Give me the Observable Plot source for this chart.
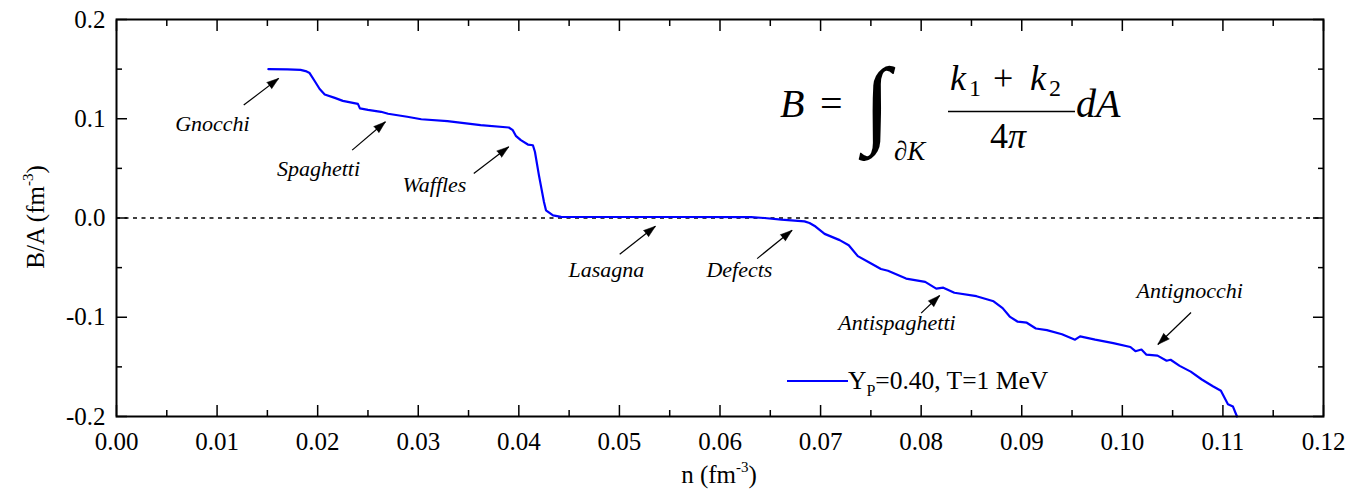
<!DOCTYPE html>
<html>
<head>
<meta charset="utf-8">
<script src="https://cdn.jsdelivr.net/npm/d3@7"></script>
<script src="https://cdn.jsdelivr.net/npm/@observablehq/plot@0.6"></script>
<style>
  html, body { margin: 0; padding: 0; background: #fff; }
  #wrap { position: relative; width: 1360px; height: 494px; overflow: hidden; }
  #overlay { position: absolute; left: 0; top: 0; pointer-events: none; }
  #overlay text { font-family: "Liberation Serif", "Times New Roman", serif; fill: #000; }
</style>
</head>
<body>
<div id="wrap">
  <div id="chart"></div>
  <svg id="overlay" width="1360" height="494" xmlns="http://www.w3.org/2000/svg">
    <!-- axis titles -->
    <text x="719" y="483" font-size="25" text-anchor="middle">n (fm<tspan font-size="15" dy="-11">-3</tspan><tspan dy="11">)</tspan></text>
    <text transform="translate(44,217) rotate(-90)" font-size="25" text-anchor="middle">B/A (fm<tspan font-size="15" dy="-11">-3</tspan><tspan dy="11">)</tspan></text>
    <!-- formula -->
    <text x="780" y="117" font-size="40" font-style="italic">B</text>
    <text x="820" y="117" font-size="40">=</text>
    <text x="864" y="135" font-size="97">∫</text>
    <text x="894" y="160" font-size="27">∂<tspan font-style="italic">K</tspan></text>
    <text x="950" y="90" font-size="36" font-style="italic">k</text>
    <text x="969" y="96" font-size="24">1</text>
    <text x="993" y="90" font-size="36">+</text>
    <text x="1030" y="90" font-size="36" font-style="italic">k</text>
    <text x="1049" y="96" font-size="24">2</text>
    <line x1="948" x2="1075" y1="111.5" y2="111.5" stroke="#000" stroke-width="1.6"></line>
    <text x="990" y="148" font-size="36">4<tspan font-style="italic">π</tspan></text>
    <text x="1076" y="117" font-size="40" font-style="italic">dA</text>
    <!-- legend -->
    <line x1="787" x2="848" y1="381" y2="381" stroke="#0000ff" stroke-width="2.2"></line>
    <text x="848" y="389" font-size="25.5">Y<tspan font-size="16" dy="7">P</tspan><tspan dy="-7">=0.40, T=1 MeV</tspan></text>
  </svg>
</div>
<script>
// ---- data: curve B/A vs n ----
const density = [
  0.0151, 0.0170, 0.0183, 0.0188, 0.0192, 0.0197, 0.0202, 0.0207, 0.0217, 0.0225,
  0.0240, 0.0242, 0.0250, 0.0263, 0.0270, 0.0289, 0.0303, 0.0329, 0.0362, 0.0390,
  0.0394, 0.0397, 0.0402, 0.0409, 0.0414, 0.0416, 0.0420, 0.0425, 0.0427, 0.0434,
  0.0442, 0.0500, 0.0560, 0.0631, 0.0644, 0.0661, 0.0684, 0.0689, 0.0695, 0.0704,
  0.0719, 0.0728, 0.0737, 0.0748, 0.0760, 0.0767, 0.0785, 0.0804, 0.0815, 0.0822,
  0.0833, 0.0855, 0.0872, 0.0881, 0.0888, 0.0896, 0.0905, 0.0914, 0.0925, 0.0940,
  0.0953, 0.0958, 0.0973, 0.0991, 0.1008, 0.1013, 0.1019, 0.1024, 0.1035, 0.1044,
  0.1048, 0.1057, 0.1068, 0.1079, 0.1090, 0.1098, 0.1105, 0.1110, 0.1114
];
const bPerA = [
  0.1500, 0.1498, 0.1493, 0.1480, 0.1460, 0.1380, 0.1300, 0.1245, 0.1210, 0.1180,
  0.1150, 0.1105, 0.1090, 0.1070, 0.1050, 0.1020, 0.0995, 0.0976, 0.0935, 0.0912,
  0.0885, 0.0828, 0.0784, 0.0740, 0.0733, 0.0667, 0.0430, 0.0162, 0.0077, 0.0026,
  0.0012, 0.0010, 0.0010, 0.0008, 0.0000, -0.0017, -0.0034, -0.0050, -0.0086, -0.0160,
  -0.0223, -0.0274, -0.0384, -0.0445, -0.0514, -0.0531, -0.0610, -0.0644, -0.0712, -0.0702,
  -0.0753, -0.0788, -0.0839, -0.0908, -0.0993, -0.1045, -0.1055, -0.1113, -0.1130, -0.1171,
  -0.1226, -0.1192, -0.1226, -0.1260, -0.1300, -0.1342, -0.1325, -0.1377, -0.1387, -0.1438,
  -0.1428, -0.1490, -0.1548, -0.1627, -0.1695, -0.1740, -0.1877, -0.1900, -0.2000
];

// ---- phase annotations ----
const phaseNames = ["Gnocchi", "Spaghetti", "Waffles", "Lasagna", "Defects", "Antispaghetti", "Antignocchi"];
const labelN = [0.00954, 0.02008, 0.03161, 0.04871, 0.06193, 0.0776, 0.1067];
const labelB = [0.0946, 0.0492, 0.0330, -0.0527, -0.0527, -0.1060, -0.0736];
const arrowFromN = [0.01265, 0.02343, 0.03552, 0.05003, 0.06369, 0.0800, 0.10683];
const arrowFromB = [0.1138, 0.0684, 0.0449, -0.0366, -0.0409, -0.0959, -0.0952];
const arrowToN = [0.01613, 0.02674, 0.0390, 0.05358, 0.06717, 0.08184, 0.10353];
const arrowToB = [0.1407, 0.0969, 0.0717, -0.0083, -0.0124, -0.0781, -0.1274];

// ---- ticks ----
const xMajor = [0, 0.01, 0.02, 0.03, 0.04, 0.05, 0.06, 0.07, 0.08, 0.09, 0.10, 0.11, 0.12];
const xMinor = [0.005, 0.015, 0.025, 0.035, 0.045, 0.055, 0.065, 0.075, 0.085, 0.095, 0.105, 0.115];
const yMajor = [-0.2, -0.1, 0, 0.1, 0.2];
const yMinor = [-0.15, -0.05, 0.05, 0.15];

const W = 1360, H = 494, ML = 116, MR = 37, MT = 19, MB = 78;
const xDomain = [0, 0.12], yDomain = [-0.2, 0.2];
// pixels per data unit (used only to orient the arrowheads)
const kx = (W - ML - MR) / (xDomain[1] - xDomain[0]);
const ky = (H - MT - MB) / (yDomain[1] - yDomain[0]);

const curve = density.map((n, i) => ({n, B: bPerA[i]}));
const labels = phaseNames.map((name, i) => ({name, n: labelN[i], B: labelB[i]}));
const arrows = phaseNames.map((name, i) => {
  const dx = (arrowToN[i] - arrowFromN[i]) * kx;
  const dy = (arrowToB[i] - arrowFromB[i]) * ky; // up positive
  return {x1: arrowFromN[i], y1: arrowFromB[i], x2: arrowToN[i], y2: arrowToB[i],
          angle: Math.atan2(dx, dy) * 180 / Math.PI};
});

const xFmt = d => d.toFixed(2);
const yFmt = d => d.toFixed(1);
const blank = () => "";

const chart = Plot.plot({
  width: W,
  height: H,
  marginLeft: ML,
  marginRight: MR,
  marginTop: MT,
  marginBottom: MB,
  style: {fontFamily: "Liberation Serif, Times New Roman, serif", fontSize: "25px", color: "#000", background: "#fff"},
  x: {domain: xDomain},
  y: {domain: yDomain},
  marks: [
    Plot.ruleY([0], {stroke: "#000", strokeWidth: 1.6, strokeDasharray: "4,4.5"}),
    Plot.line(curve, {x: "n", y: "B", stroke: "#0000ff", strokeWidth: 2.2}),
    Plot.link(arrows, {x1: "x1", y1: "y1", x2: "x2", y2: "y2", stroke: "#000", strokeWidth: 1.2}),
    Plot.vector(arrows, {x: "x2", y: "y2", rotate: "angle", length: 12, r: 4, shape: "spike", anchor: "end", fill: "#000", stroke: "#000", strokeWidth: 0.5}),
    Plot.text(labels, {x: "n", y: "B", text: "name", fontStyle: "italic", fontSize: 22, fill: "#000"}),
    Plot.axisX(xMajor, {anchor: "bottom", tickSize: -11, tickPadding: 27, tickFormat: xFmt, label: null, strokeWidth: 1.5}),
    Plot.axisX(xMinor, {anchor: "bottom", tickSize: -6, tickFormat: blank, label: null, strokeWidth: 1.5}),
    Plot.axisX(xMajor, {anchor: "top", tickSize: -11, tickFormat: blank, label: null, strokeWidth: 1.5}),
    Plot.axisX(xMinor, {anchor: "top", tickSize: -6, tickFormat: blank, label: null, strokeWidth: 1.5}),
    Plot.axisY(yMajor, {anchor: "left", tickSize: -11, tickPadding: 22, tickFormat: yFmt, label: null, strokeWidth: 1.5}),
    Plot.axisY(yMinor, {anchor: "left", tickSize: -6, tickFormat: blank, label: null, strokeWidth: 1.5}),
    Plot.axisY(yMajor, {anchor: "right", tickSize: -11, tickFormat: blank, label: null, strokeWidth: 1.5}),
    Plot.axisY(yMinor, {anchor: "right", tickSize: -6, tickFormat: blank, label: null, strokeWidth: 1.5}),
    Plot.frame({stroke: "#000", strokeWidth: 2})
  ]
});
document.getElementById("chart").appendChild(chart);
</script>
</body>
</html>
